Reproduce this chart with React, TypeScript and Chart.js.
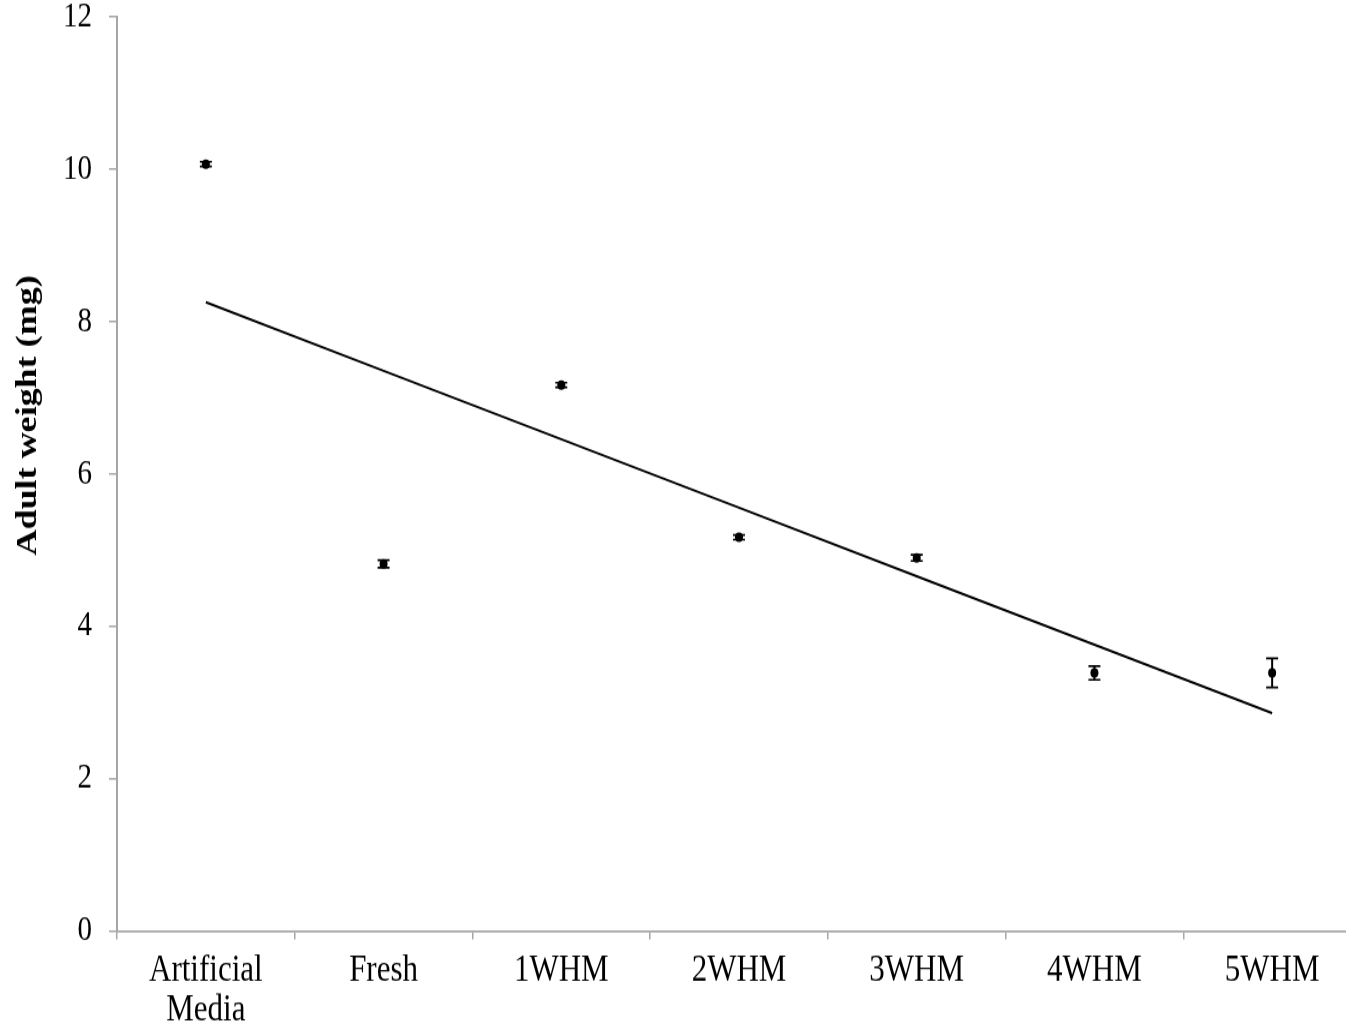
import React, { useEffect, useRef } from 'react';
import { Chart, registerables } from 'chart.js';

Chart.register(...registerables);

// Diet treatments and mean adult weights (mg) with standard errors
const categories: (string | string[])[] = [['Artificial', 'Media'], 'Fresh', '1WHM', '2WHM', '3WHM', '4WHM', '5WHM'];
const meanWeights = [10.07, 4.82, 7.17, 5.17, 4.9, 3.39, 3.39];
const stdErrors = [0.03, 0.05, 0.03, 0.03, 0.04, 0.09, 0.19];
const yAxisTitle = 'Adult weight (mg)';
const yMin = 0;
const yMax = 12;
const yStep = 2;

// Least-squares linear trend across treatment order
function linearTrend(values: number[]): number[] {
  const n = values.length;
  const xs = values.map((_, i) => i + 1);
  const mx = xs.reduce((a, b) => a + b, 0) / n;
  const my = values.reduce((a, b) => a + b, 0) / n;
  let sxy = 0;
  let sxx = 0;
  for (let i = 0; i < n; i++) {
    sxy += (xs[i] - mx) * (values[i] - my);
    sxx += (xs[i] - mx) * (xs[i] - mx);
  }
  const slope = sxy / sxx;
  return xs.map((x) => my + slope * (x - mx));
}

const CANVAS_W = 1370;
const CANVAS_H = 853;
const STRETCH_Y = 1024 / CANVAS_H;
const SERIF = '"Liberation Serif", "Times New Roman", Times, serif';
const AXIS_GRAY = '#a6a6a6';

const errorBarPlugin = {
  id: 'errorBars',
  afterDatasetsDraw(chart: any) {
    const { ctx, scales } = chart;
    const xs = scales.x;
    const ys = scales.y;
    ctx.save();
    ctx.strokeStyle = '#000';
    meanWeights.forEach((m, i) => {
      const x = xs.getPixelForValue(i);
      const yTop = ys.getPixelForValue(m + stdErrors[i]);
      const yBot = ys.getPixelForValue(m - stdErrors[i]);
      ctx.lineWidth = 2;
      ctx.beginPath();
      ctx.moveTo(x, yTop);
      ctx.lineTo(x, yBot);
      ctx.stroke();
      ctx.lineWidth = 2 / STRETCH_Y;
      ctx.beginPath();
      ctx.moveTo(x - 6, yTop);
      ctx.lineTo(x + 6, yTop);
      ctx.moveTo(x - 6, yBot);
      ctx.lineTo(x + 6, yBot);
      ctx.stroke();
    });
    ctx.restore();
  },
};

const axisTitlePlugin = {
  id: 'yAxisTitle',
  afterDraw(chart: any) {
    const { ctx } = chart;
    ctx.save();
    ctx.translate(28, 346);
    ctx.rotate(-Math.PI / 2);
    ctx.font = `bold 30px ${SERIF}`;
    ctx.fillStyle = '#000';
    ctx.textAlign = 'center';
    ctx.textBaseline = 'middle';
    ctx.fillText(yAxisTitle, 0, 0);
    ctx.restore();
  },
};

export default function App() {
  const canvasRef = useRef<HTMLCanvasElement | null>(null);

  useEffect(() => {
    if (!canvasRef.current) return;
    const trend = linearTrend(meanWeights);
    const chart = new Chart(canvasRef.current, {
      type: 'line',
      data: {
        labels: categories as any,
        datasets: [
          {
            label: 'Mean',
            data: meanWeights,
            showLine: false,
            pointRadius: 4,
            pointBackgroundColor: '#000',
            pointBorderColor: '#000',
            pointBorderWidth: 0,
            order: 1,
          },
          {
            label: 'Linear trend',
            data: trend,
            borderColor: '#000',
            borderWidth: 2,
            pointRadius: 0,
            fill: false,
            tension: 0,
            order: 2,
          },
        ],
      },
      options: {
        responsive: false,
        animation: false,
        devicePixelRatio: 1,
        layout: { padding: { left: 0, top: 14.2, right: 9, bottom: 0 } },
        plugins: {
          legend: { display: false },
          tooltip: { enabled: false },
          title: { display: false },
        },
        scales: {
          x: {
            type: 'category',
            offset: true,
            grid: {
              display: true,
              drawOnChartArea: false,
              drawTicks: true,
              tickLength: 7,
              color: AXIS_GRAY,
              lineWidth: 1.5,
              offset: true,
            },
            border: { display: true, color: AXIS_GRAY, width: 1.7 },
            ticks: {
              color: '#000',
              font: { family: SERIF, size: 31, lineHeight: 1.05 },
              padding: 10,
              maxRotation: 0,
              autoSkip: false,
            },
            afterFit(scale: any) {
              scale.height = 77.4;
              scale.paddingLeft = 0;
              scale.paddingRight = 0;
            },
          },
          y: {
            min: yMin,
            max: yMax,
            grid: {
              display: true,
              drawOnChartArea: false,
              drawTicks: true,
              tickLength: 8,
              color: AXIS_GRAY,
              lineWidth: 1.5,
            },
            border: { display: true, color: AXIS_GRAY, width: 2 },
            ticks: {
              stepSize: yStep,
              color: '#000',
              font: { family: SERIF, size: 29, lineHeight: 1 },
              padding: 17,
            },
            afterFit(scale: any) {
              scale.width = 117;
              scale.paddingTop = 0;
              scale.paddingBottom = 0;
            },
          },
        },
      },
      plugins: [errorBarPlugin, axisTitlePlugin],
    });
    return () => chart.destroy();
  }, []);

  return (
    <div
      style={{
        position: 'fixed',
        left: 0,
        top: 0,
        width: 1346,
        height: 1024,
        overflow: 'hidden',
        background: '#fff',
      }}
    >
      <div
        style={{
          width: CANVAS_W,
          height: CANVAS_H,
          transform: `scaleY(${STRETCH_Y})`,
          transformOrigin: 'top left',
        }}
      >
        <canvas ref={canvasRef} width={CANVAS_W} height={CANVAS_H} />
      </div>
    </div>
  );
}
